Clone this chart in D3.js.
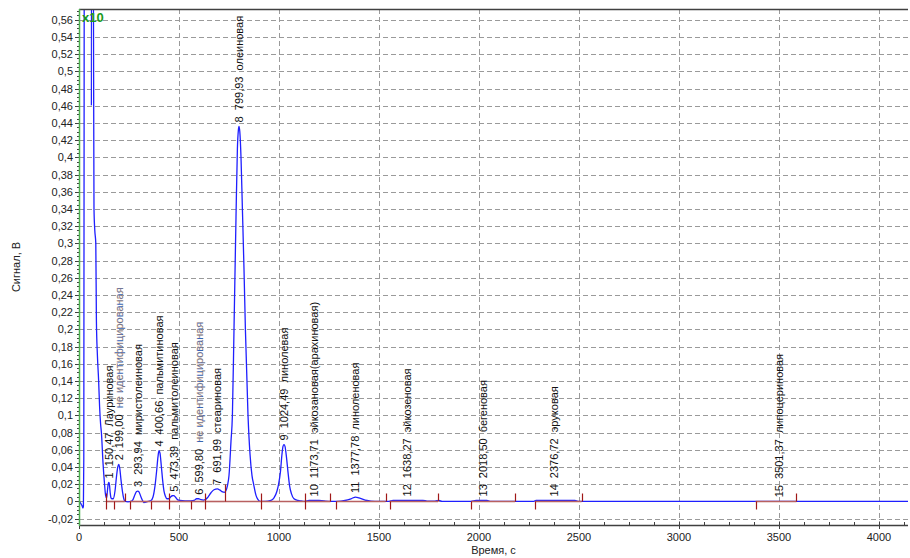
<!DOCTYPE html>
<html><head><meta charset="utf-8">
<script src="https://cdn.jsdelivr.net/npm/d3@7"></script>
<style>
body{margin:0;background:#fff}
svg text{font-family:"Liberation Sans",Arial,sans-serif}
</style>
</head><body>
<svg id="c" width="910" height="558"></svg>
<script>
// ---- data ----
const signalTime = [0,5,10,15,20,22,24,26,30,40,50,58,62,64,68,72,75,79,84,87,92,98,103,108,112,120,127,133,138,142,146,149,152,156,160,165,172,180,188,194,199,204,210,217,224,230,245,260,270,280,288,294,300,310,320,325,335,345,360,370,380,388,395,400,405,412,418,425,432,440,448,458,466,474,482,492,505,530,560,575,588,598,610,622,632,645,660,675,692,705,718,726,734,742,750,760,767,775,785,792,797,800,804,810,817,825,832,845,855,865,873,885,895,905,930,960,975,990,998,1007,1015,1020,1025,1030,1038,1045,1053,1062,1075,1095,1110,1130,1150,1175,1200,1225,1260,1290,1330,1360,1383,1400,1440,1480,1550,1570,1640,1720,1740,1780,1800,1815,1960,1985,2040,2055,2275,2285,2480,2495,4145];
const signalValue = [0,-0.001,-0.003,-0.005,-0.0078,-0.006,0.05,0.6,2.5,4.0,3.5,2.0,0.46,1.2,0.9,0.6,0.34,0.315,0.3,0.211,0.17,0.141,0.11,0.09,0.08,0.045,0.022,0.007,0.004,0.012,0.02,0.022,0.02,0.01,0.004,0.003,0.003,0.012,0.03,0.04,0.043,0.038,0.025,0.012,0.003,0,-0.0005,0,0.002,0.008,0.0115,0.012,0.011,0.005,0,-0.0015,-0.001,0,0.001,0.005,0.018,0.035,0.052,0.059,0.056,0.04,0.025,0.012,0.006,0.003,0.003,0.005,0.0065,0.0066,0.005,0.002,0.001,0.0005,0.0005,0.001,0.003,0.003,0.002,0.0015,0.002,0.005,0.01,0.0135,0.0145,0.013,0.011,0.0105,0.012,0.018,0.03,0.07,0.1,0.2,0.33,0.41,0.432,0.436,0.43,0.4,0.34,0.27,0.2,0.1,0.055,0.03,0.02,0.007,0.002,0,0,0.001,0.004,0.012,0.02,0.034,0.055,0.064,0.066,0.064,0.05,0.034,0.018,0.009,0.003,0.001,0.0005,0,0.001,0.0012,0.001,0.0005,0,0,0.001,0.003,0.005,0.004,0.001,0,0,0.0012,0.0012,0.0012,0.0003,0.0003,0.0012,0,0,0.0012,0.0012,0,0,0.0012,0.0012,0,0];

const peakNumbers = [1,2,3,4,5,6,7,8,9,10,11,12,13,14,15];
const peakTimes   = [150.47,199.00,293.94,400.66,473.39,599.80,691.99,799.93,1024.49,1173.71,1377.78,1638.27,2018.50,2376.72,3501.37];
const peakHeights = [0.022,0.043,0.012,0.059,0.0066,0.003,0.0145,0.436,0.066,0.001,0.005,0.001,0.001,0.001,0.0];
const peakNames   = ["Лауриновая","не идентифицированая","миристолеиновая","пальмитиновая","пальмитолеиновая","не идентифицированая","стеариновая","олеиновая","линолевая","эйкозановая(арахиновая)","линоленовая","эйкозеновая","бегеновая","эруковая","липоцериновая"];
const peakStarts  = [137,173,254,358,448,562,628,728,912,1129,1287,1553,1962,2280,3383];
const peakEnds    = [173,229,358,448,562,628,728,912,1129,1257,1533,1795,2180,2513,3587];

const markerTimes = [137,173,229,254,358,448,562,628,728,912,1129,1257,1287,1533,1553,1795,1962,2180,2280,2513,3383,3587];
const markerKinds = ["se","s","e","s","s","se","s","se","E","se","se","e","s","e","s","e","s","e","s","e","s","e"];

const xTickValues = [0,500,1000,1500,2000,2500,3000,3500,4000];
const xLabel = "Время, с";
const yLabel = "Сигнал, В";
const scaleNote = "x10";
const unknownName = "не идентифицированая";

// ---- layout ----
const L = 79, R = 908, T = 9, B = 525;
const svg = d3.select("#c");
const x = d3.scaleLinear().domain([0, 4145]).range([L, R]);
const y = d3.scaleLinear().domain([-0.0275, 0.5725]).range([B, T]);

const yMajor = d3.range(-0.02, 0.5601, 0.02).map(v => +v.toFixed(3));
const yMinor = d3.range(-0.025, 0.5701, 0.005).map(v => +v.toFixed(3));
const xMinor = d3.range(0, 4146, 125);
const fmt = v => String(+v.toFixed(2)).replace(".", ",");
const fmt2 = v => v.toFixed(2).replace(".", ",");
const SP = "\u00a0\u00a0";

svg.append("defs").append("clipPath").attr("id","clip")
  .append("rect").attr("x",L).attr("y",T).attr("width",R-L).attr("height",B-T);

// grid
const grid = svg.append("g").attr("stroke","#9a9a9a").attr("stroke-dasharray","5,3").attr("stroke-width",1);
grid.selectAll("line.h").data(yMajor).join("line")
  .attr("x1",L).attr("x2",R).attr("y1",d=>Math.round(y(d))+0.5).attr("y2",d=>Math.round(y(d))+0.5);
grid.selectAll("line.v").data(xTickValues.filter(d=>d>0)).join("line")
  .attr("y1",T).attr("y2",B).attr("x1",d=>Math.round(x(d))+0.5).attr("x2",d=>Math.round(x(d))+0.5);

// curve
const pts = signalTime.map((t,i)=>[t, signalValue[i]]);
const line = d3.line().x(d=>x(d[0])).y(d=>y(d[1])).curve(d3.curveMonotoneX);
svg.append("path").attr("clip-path","url(#clip)")
  .attr("d", line(pts)).attr("fill","none").attr("stroke","#1f1fff").attr("stroke-width",1.3);

// baseline segments
const y0 = Math.round(y(0)) + 0.5;
svg.append("g").selectAll("line").data(peakStarts.map((s,i)=>[s,peakEnds[i]])).join("line")
  .attr("x1",d=>x(d[0])).attr("x2",d=>x(d[1])).attr("y1",y0).attr("y2",y0)
  .attr("stroke","#b86060").attr("stroke-width",1.6);

// boundary markers
const mk = svg.append("g").attr("stroke","#a01818").attr("stroke-width",1.2);
markerTimes.forEach((t,i)=>{
  const k = markerKinds[i], xx = Math.round(x(t))+0.5;
  let up = 0, dn = 0;
  if (k.includes("s")) dn = 8;
  if (k.includes("e")) up = 8;
  if (k === "E") up = 17;
  mk.append("line").attr("x1",xx).attr("x2",xx).attr("y1",y0-up).attr("y2",y0+dn);
});

// peak labels
const lab = svg.append("g").attr("font-size","11px");
peakNumbers.forEach((n,i)=>{
  const px = x(peakTimes[i]), py = y(peakHeights[i]) - 4;
  const t = lab.append("text").attr("transform",`translate(${px},${py}) rotate(-90)`)
    .attr("dy","0.36em").attr("fill","#111");
  t.append("tspan").text(`${n}${SP}${fmt2(peakTimes[i])}${SP}`);
  const nm = t.append("tspan").text(peakNames[i]);
  if (peakNames[i] === unknownName) {
    nm.attr("fill","#3565b8").attr("stroke","#f2a640").attr("stroke-width",0.2);
  }
});

// axes
svg.append("line").attr("x1",L).attr("x2",R).attr("y1",T+0.5).attr("y2",T+0.5).attr("stroke","#404040").attr("stroke-width",1.5);
svg.append("line").attr("x1",L).attr("x2",R).attr("y1",B+0.5).attr("y2",B+0.5).attr("stroke","#404040").attr("stroke-width",1.5);

const ax = svg.append("g").attr("stroke","#404040").attr("stroke-width",1);
ax.selectAll("line.ymi").data(yMinor).join("line")
  .attr("x1",L-2).attr("x2",L).attr("y1",d=>Math.round(y(d))+0.5).attr("y2",d=>Math.round(y(d))+0.5);
ax.selectAll("line.yma").data(yMajor).join("line")
  .attr("x1",L-4).attr("x2",L).attr("y1",d=>Math.round(y(d))+0.5).attr("y2",d=>Math.round(y(d))+0.5);
ax.selectAll("line.xmi").data(xMinor).join("line")
  .attr("y1",B-3).attr("y2",B).attr("x1",d=>Math.round(x(d))+0.5).attr("x2",d=>Math.round(x(d))+0.5);
ax.selectAll("line.xma").data(xTickValues).join("line")
  .attr("y1",B).attr("y2",B+4).attr("x1",d=>Math.round(x(d))+0.5).attr("x2",d=>Math.round(x(d))+0.5);

svg.append("line").attr("x1",L+0.5).attr("x2",L+0.5).attr("y1",T).attr("y2",B+1).attr("stroke","#4caf50").attr("stroke-width",1.5);

const tl = svg.append("g").attr("font-size","11px").attr("fill","#222");
tl.selectAll("text.y").data(yMajor).join("text")
  .attr("x",L-6).attr("y",d=>y(d)).attr("dy","0.36em").attr("text-anchor","end").text(fmt);
tl.selectAll("text.x").data(xTickValues).join("text")
  .attr("x",d=>x(d)).attr("y",B+16).attr("text-anchor","middle").text(d=>d);

svg.append("text").attr("x",(L+R)/2).attr("y",554).attr("text-anchor","middle")
  .attr("font-size","11px").attr("fill","#222").text(xLabel);
svg.append("text").attr("transform",`translate(16,${(T+B)/2}) rotate(-90)`).attr("dy","0.36em")
  .attr("text-anchor","middle").attr("font-size","11px").attr("fill","#222").text(yLabel);

svg.append("text").attr("x",L+3).attr("y",T+13).attr("font-size","13px").attr("font-weight","bold")
  .attr("fill","#1a9a1a").text(scaleNote);
</script>
</body></html>
